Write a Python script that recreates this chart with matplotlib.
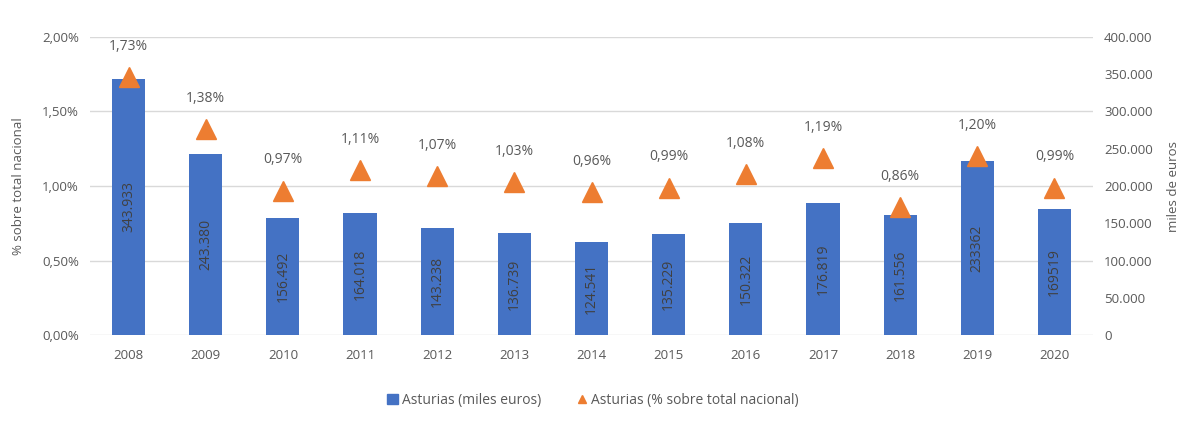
import matplotlib.pyplot as plt
from matplotlib.ticker import FuncFormatter, MultipleLocator
import matplotlib.lines as mlines
import matplotlib.patches as mpatches

plt.rcParams["font.family"] = ["Open Sans", "DejaVu Sans"]

years = ["2008", "2009", "2010", "2011", "2012", "2013", "2014",
         "2015", "2016", "2017", "2018", "2019", "2020"]
miles_euros = [343933, 243380, 156492, 164018, 143238, 136739, 124541,
               135229, 150322, 176819, 161556, 233362, 169519]
bar_labels = ["343.933", "243.380", "156.492", "164.018", "143.238", "136.739", "124.541",
              "135.229", "150.322", "176.819", "161.556", "233362", "169519"]
pct_total = [1.73, 1.38, 0.97, 1.11, 1.07, 1.03, 0.96,
             0.99, 1.08, 1.19, 0.86, 1.20, 0.99]

blue = "#4472C4"
orange = "#ED7D31"
txt = "#595959"

fig = plt.figure(figsize=(11.86, 4.28), dpi=100)
ax = fig.add_axes([0.0759, 0.217, 0.8457, 0.6967])
ax2 = ax.twinx()

x = range(len(years))

# bars go on the right axis (miles de euros)
for yv in [0, 100000, 200000, 300000, 400000]:
    ax2.axhline(yv, color="#D9D9D9", linewidth=1, zorder=0)
ax2.bar(x, miles_euros, width=0.43, color=blue, zorder=2)
for i, v in enumerate(miles_euros):
    ax2.text(i, v / 2, bar_labels[i], rotation=90, ha="center", va="center",
             fontsize=10, color="#404040", zorder=3)
ax2.set_ylim(0, 400000)
ax2.yaxis.set_major_locator(MultipleLocator(50000))
ax2.yaxis.set_major_formatter(FuncFormatter(lambda v, p: "{:,.0f}".format(v).replace(",", ".")))
ax2.set_ylabel("miles de euros", color=txt, fontsize=9.5, labelpad=10)

# percentages on the left axis, triangles on top of bars
ax.set_zorder(ax2.get_zorder() + 1)
ax.patch.set_visible(False)

ax.set_ylim(0, 2.0)
ax.yaxis.set_major_locator(MultipleLocator(0.5))
ax.yaxis.set_major_formatter(FuncFormatter(lambda v, p: "{:.2f}%".format(v).replace(".", ",")))
ax.set_ylabel("% sobre total nacional", color=txt, fontsize=9.5, labelpad=12)

ax.plot(x, pct_total, linestyle="none", marker="^", markersize=15, color=orange, zorder=3)
for i, v in enumerate(pct_total):
    ax.annotate("{:.2f}%".format(v).replace(".", ","), (i, v), xytext=(0, 22),
                textcoords="offset points", ha="center", va="center", fontsize=10, color=txt)

ax.set_xlim(-0.5, len(years) - 0.5)
ax.set_xticks(list(x))
ax.set_xticklabels(years)

for a in (ax, ax2):
    for s in a.spines.values():
        s.set_visible(False)
    a.tick_params(length=0, labelsize=9.5, colors=txt, pad=8)
ax.tick_params(axis="x", pad=10)

h1 = mpatches.Patch(color=blue, label="Asturias (miles euros)")
h2 = mlines.Line2D([], [], color=orange, marker="^", linestyle="none", markersize=6,
                   label="Asturias (% sobre total nacional)")
fig.legend(handles=[h1, h2], loc="center", bbox_to_anchor=(0.5, 0.065), ncol=2, frameon=False,
           fontsize=10, labelcolor=txt, handlelength=0.8, handletextpad=0.3, columnspacing=2.5)

plt.savefig("out.png", dpi=100)
